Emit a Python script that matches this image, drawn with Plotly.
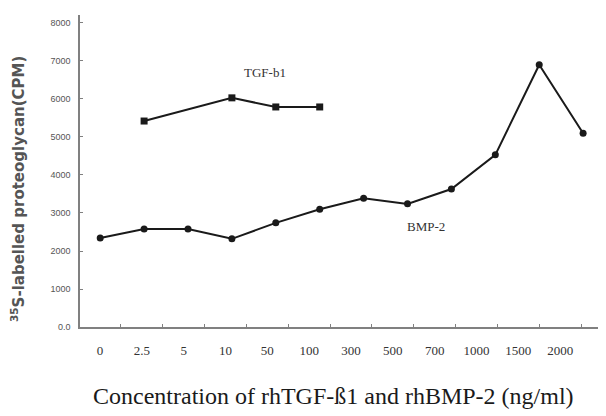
import plotly.graph_objects as go

categories = ["0", "2.5", "5", "10", "50", "100", "300", "500", "700", "1000", "1500", "2000"]
bmp2_values = [2340, 2580, 2580, 2320, 2740, 3100, 3390, 3240, 3630, 4530, 6900, 5100]
tgf_categories = ["2.5", "10", "50", "100"]
tgf_values = [5420, 6030, 5790, 5790]
y_tick_values = [0, 1000, 2000, 3000, 4000, 5000, 6000, 7000, 8000]
y_tick_labels = ["0.0", "1000", "2000", "3000", "4000", "5000", "6000", "7000", "8000"]

line_color = "#1a1a1a"
axis_color = "#808080"

# plot area in page pixels (page has an 8px body margin)
PX0, PX1, PY0, PY1 = 80, 602, 15, 327
PW, PH = PX1 - PX0, PY1 - PY0


def px(x):
    return (x - PX0) / PW


def py(y):
    return (PY1 - y) / PH


fig = go.Figure()
fig.add_trace(go.Scatter(
    x=categories, y=bmp2_values, mode="lines+markers",
    line=dict(color=line_color, width=2),
    marker=dict(color=line_color, size=7, symbol="circle"),
    showlegend=False, hoverinfo="skip"))
fig.add_trace(go.Scatter(
    x=tgf_categories, y=tgf_values, mode="lines+markers",
    line=dict(color=line_color, width=2),
    marker=dict(color=line_color, size=7, symbol="square"),
    showlegend=False, hoverinfo="skip"))
# invisible trace carrying the tick-label axis
fig.add_trace(go.Scatter(
    x=categories, y=[None] * len(categories), xaxis="x2", mode="lines",
    showlegend=False, hoverinfo="skip"))

n = len(categories)
fig.update_layout(
    width=598, height=408,
    margin=dict(l=72, r=4, t=7, b=89),
    paper_bgcolor="white", plot_bgcolor="white",
    xaxis=dict(
        type="category", categoryarray=categories, range=[-0.46, n - 1 + 0.43],
        showticklabels=False, ticks="", showgrid=False, zeroline=False,
        showline=True, linecolor=axis_color, linewidth=1.5),
    xaxis2=dict(
        type="category", categoryarray=categories, overlaying="x", anchor="y",
        range=[-0.478, n - 1 + 1.0], side="bottom",
        tickson="boundaries", ticks="inside", ticklen=3, tickcolor=axis_color,
        showgrid=False, zeroline=False, showline=False,
        tickfont=dict(family="Liberation Serif", size=13, color="#333"),
        ticklabelstandoff=14),
    yaxis=dict(
        range=[0, 8210], tickvals=y_tick_values, ticktext=y_tick_labels,
        ticks="inside", ticklen=3, tickcolor=axis_color,
        showgrid=False, zeroline=False,
        showline=True, linecolor=axis_color, linewidth=1.5,
        tickfont=dict(family="Liberation Sans Narrow, Liberation Sans", size=9, color="#555"),
        ticklabelstandoff=6),
    annotations=[
        dict(text="TGF-b1", x=px(242), y=py(63), xref="paper", yref="paper",
             showarrow=False,
             font=dict(family="Liberation Serif", size=13, color="#333")),
        dict(text="BMP-2", x=px(447), y=py(236), xref="paper", yref="paper",
             showarrow=False,
             font=dict(family="Liberation Serif", size=13, color="#333")),
        dict(text="<sup>35</sup>S-labelled proteoglycan(CPM)", x=px(18), y=py(189),
             xref="paper", yref="paper", showarrow=False, textangle=-90,
             xanchor="center", yanchor="middle",
             font=dict(family="DejaVu Sans", size=15, color="#555", weight="bold")),
        dict(text="Concentration of rhTGF-ß1 and rhBMP-2 (ng/ml)", x=px(333), y=py(396),
             xref="paper", yref="paper", showarrow=False,
             xanchor="center", yanchor="middle",
             font=dict(family="Liberation Serif", size=24, color="#1a1a1a")),
    ],
)

fig.write_html("out.html")
